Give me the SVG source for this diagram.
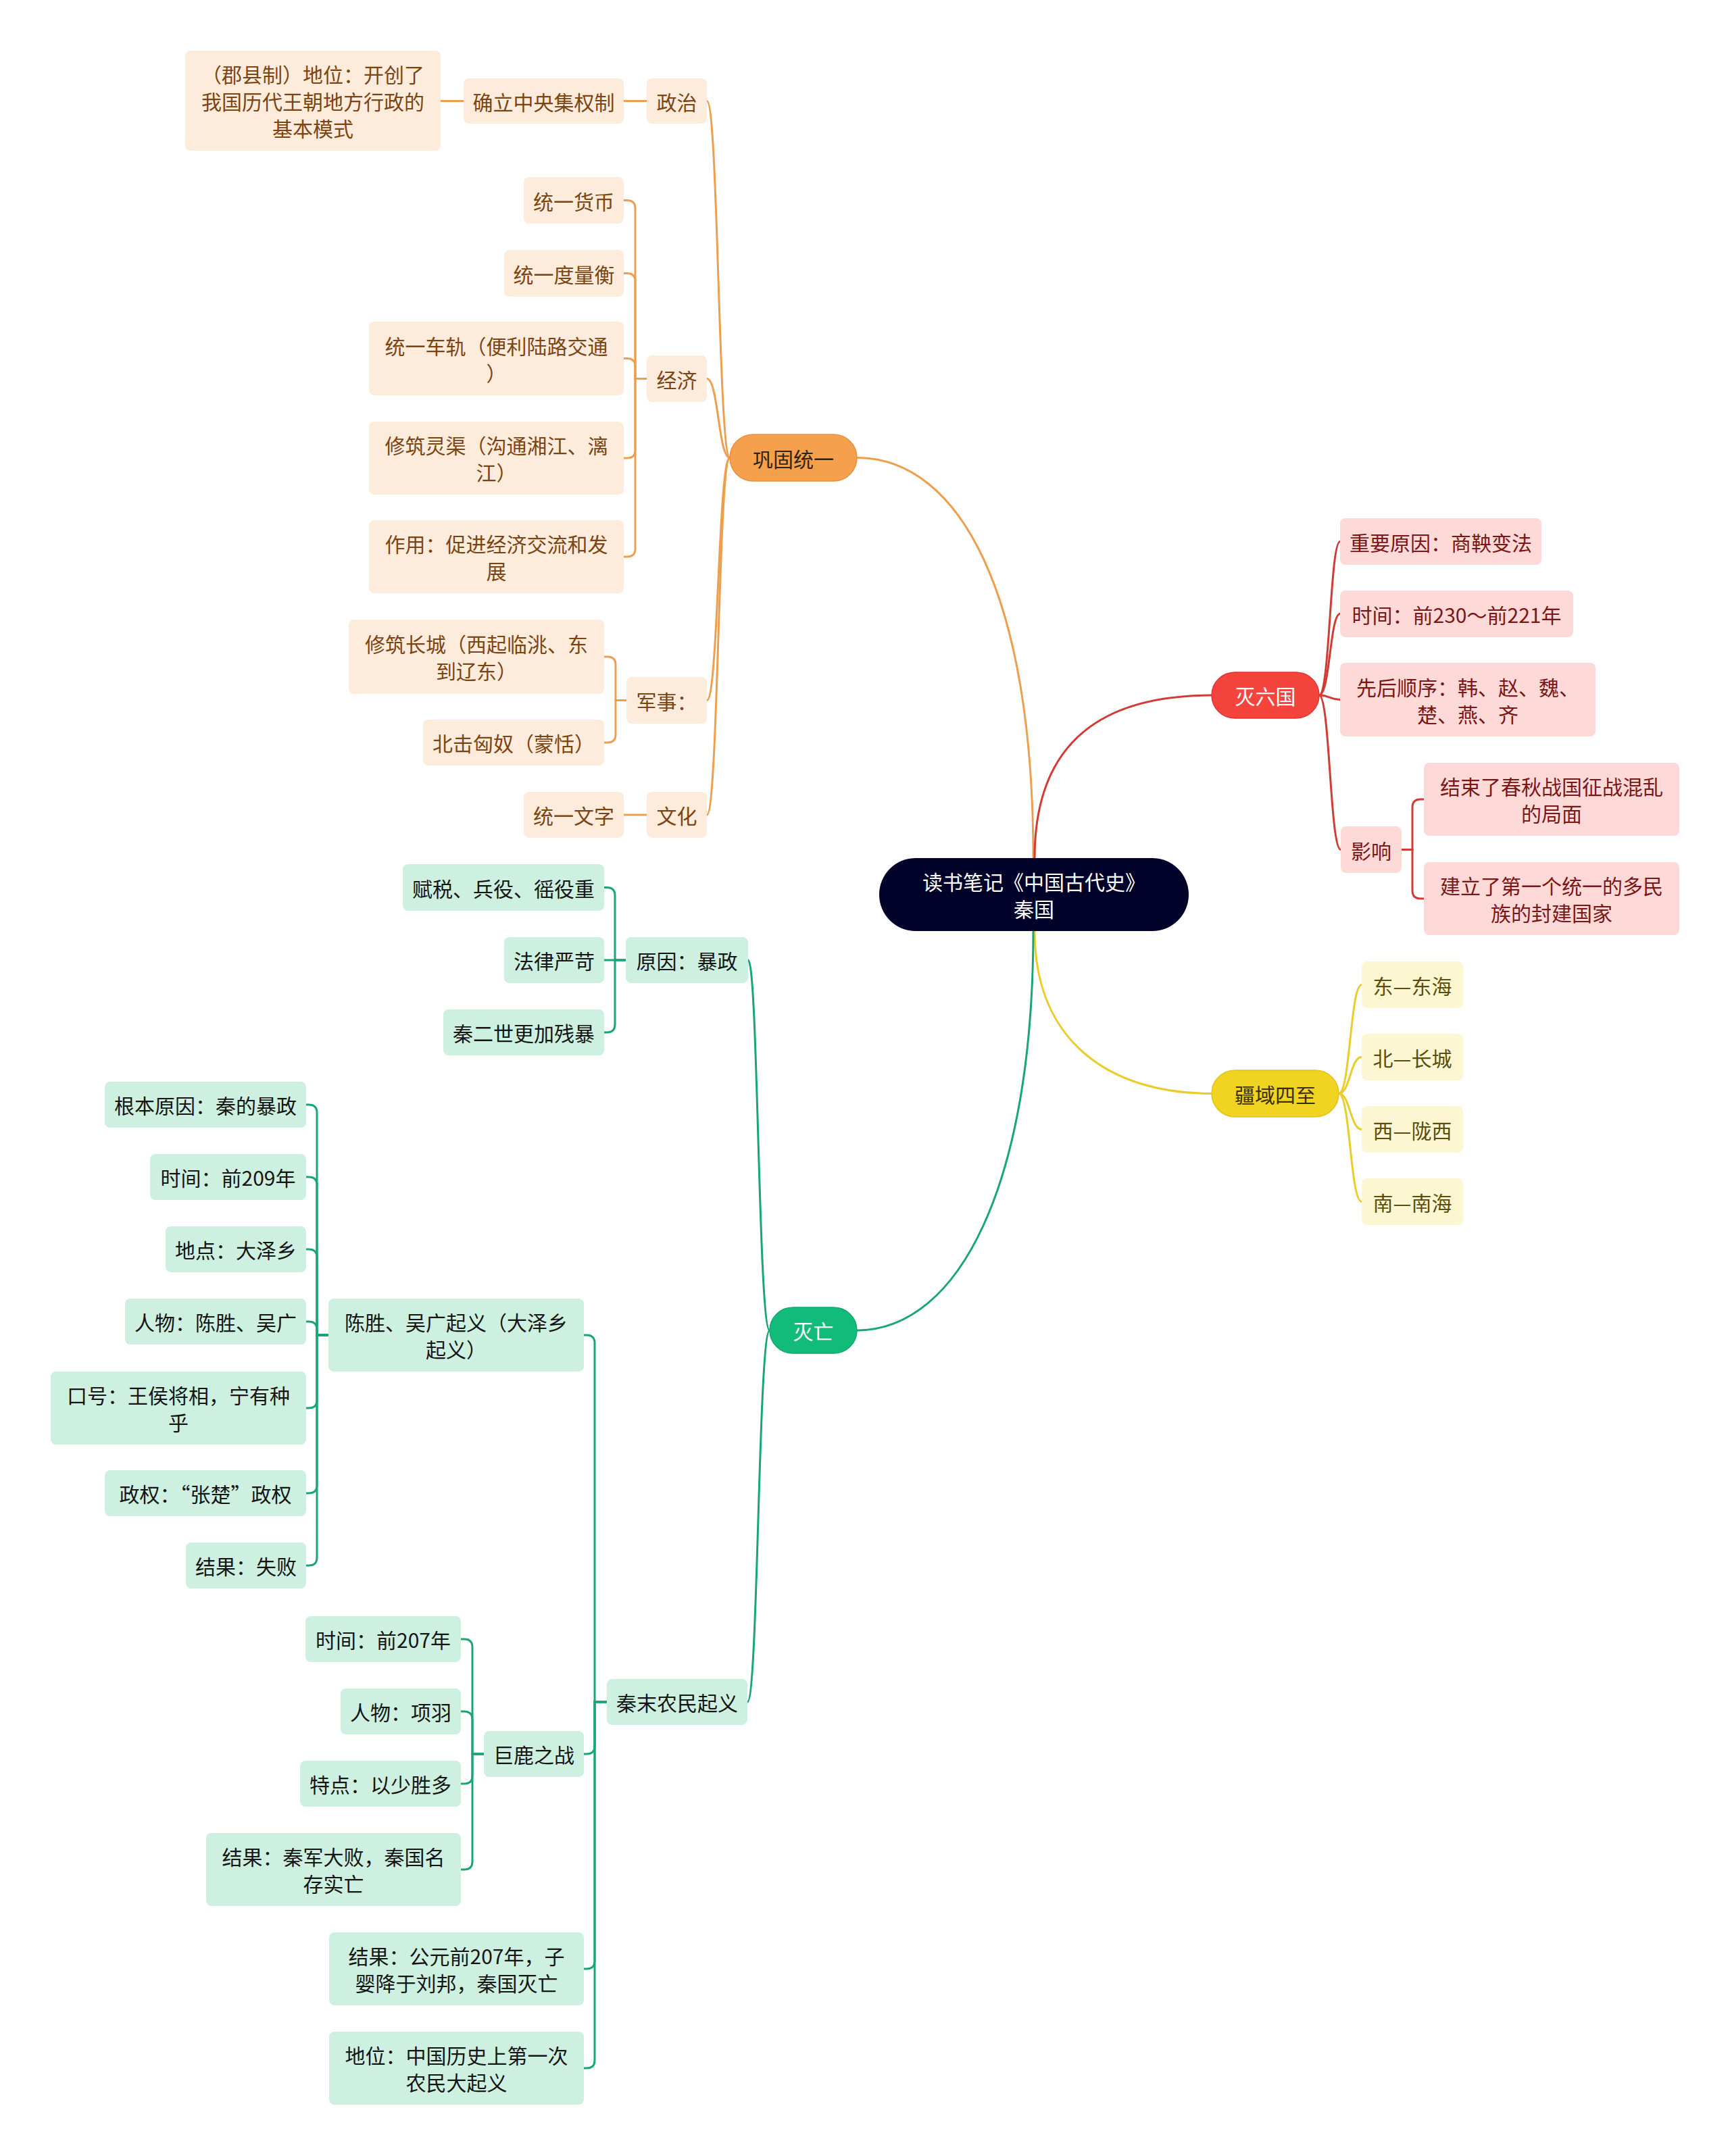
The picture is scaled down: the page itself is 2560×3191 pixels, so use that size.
<svg xmlns="http://www.w3.org/2000/svg" width="2560" height="3191" viewBox="0 0 2560 3191">
<style>
text{font-family:"Noto Sans CJK SC","Noto Sans",sans-serif;font-size:30px;text-anchor:middle;dominant-baseline:central}
.lo{fill:none;stroke:#EC9F4F;stroke-width:3}
.lr{fill:none;stroke:#D13B35;stroke-width:3}
.ly{fill:none;stroke:#EACD2B;stroke-width:3}
.lg{fill:none;stroke:#18A676;stroke-width:3}
.so{fill:#FDEBDC}.to{fill:#7B4513}
.sr{fill:#FDD9D8}.tr{fill:#7A1616}
.sy{fill:#FDF6D3}.ty{fill:#5B4E0B}
.sg{fill:#CDF0E1}.tg{fill:#151515}
.mo{fill:#F5A04C;stroke:#E8913C;stroke-width:1.5}
.mr{fill:#F5443D;stroke:#E0352F;stroke-width:1.5}
.my{fill:#F1D322;stroke:#E2C31A;stroke-width:1.5}
.mg{fill:#13BB7B;stroke:#0FA96E;stroke-width:1.5}
.w{fill:#ffffff}
</style>
<g id="connectors">
<path class="lo" d="M1268,677.5 C1420,677.5 1529,880 1529,1270"/>
<path class="lr" d="M1531,1270 C1531,1090 1640,1029 1793,1029"/>
<path class="ly" d="M1531,1378 C1531,1540 1640,1618.5 1793,1618.5"/>
<path class="lg" d="M1529,1378 C1529,1750 1420,1969 1268,1969"/>
<path class="lo" d="M1046,149.5 C1063,149.5 1063,677.5 1080,677.5"/>
<path class="lo" d="M1046,560.5 C1063,560.5 1063,677.5 1080,677.5"/>
<path class="lo" d="M1046,1036.5 C1063,1036.5 1063,677.5 1080,677.5"/>
<path class="lo" d="M1046,1206 C1063,1206 1063,677.5 1080,677.5"/>
<path class="lo" d="M652,149.5 L686,149.5"/>
<path class="lo" d="M923,149.5 L957,149.5"/>
<path class="lo" d="M923,1206 L957,1206"/>
<path class="lo" d="M957,560.5 L940,560.5 L940,308.5 Q940,296.5 928,296.5 L923,296.5"/>
<path class="lo" d="M957,560.5 L940,560.5 L940,416.5 Q940,404.5 928,404.5 L923,404.5"/>
<path class="lo" d="M957,560.5 L940,560.5 L940,542.5 Q940,530.5 928,530.5 L923,530.5"/>
<path class="lo" d="M957,560.5 L940,560.5 L940,666 Q940,678 928,678 L923,678"/>
<path class="lo" d="M957,560.5 L940,560.5 L940,812 Q940,824 928,824 L923,824"/>
<path class="lo" d="M927,1036.5 L911,1036.5 L911,984 Q911,972 899,972 L894,972"/>
<path class="lo" d="M927,1036.5 L911,1036.5 L911,1087 Q911,1099 899,1099 L894,1099"/>
<path class="lr" d="M1952,1029 C1968,1029 1968,801.5 1983,801.5"/>
<path class="lr" d="M1952,1029 C1968,1029 1968,908.5 1983,908.5"/>
<path class="lr" d="M1952,1029 C1968,1029 1968,1035.5 1983,1035.5"/>
<path class="lr" d="M1952,1029 C1968,1029 1968,1257.5 1984,1257.5"/>
<path class="lr" d="M2074,1257.5 L2090,1257.5 L2090,1195 Q2090,1183 2102,1183 L2107,1183"/>
<path class="lr" d="M2074,1257.5 L2090,1257.5 L2090,1318 Q2090,1330 2102,1330 L2107,1330"/>
<path class="ly" d="M1981,1618.5 C1998,1618.5 1998,1457.5 2015,1457.5"/>
<path class="ly" d="M1981,1618.5 C1998,1618.5 1998,1564.5 2015,1564.5"/>
<path class="ly" d="M1981,1618.5 C1998,1618.5 1998,1671.5 2015,1671.5"/>
<path class="ly" d="M1981,1618.5 C1998,1618.5 1998,1778.5 2015,1778.5"/>
<path class="lg" d="M1139,1969 C1122,1969 1122,1421 1107,1421"/>
<path class="lg" d="M1139,1969 C1122,1969 1122,2519 1106,2519"/>
<path class="lg" d="M926,1421 L910,1421 L910,1325.5 Q910,1313.5 898,1313.5 L894,1313.5"/>
<path class="lg" d="M926,1421 L894,1421"/>
<path class="lg" d="M926,1421 L910,1421 L910,1516 Q910,1528 898,1528 L894,1528"/>
<path class="lg" d="M898,2519 L880,2519 L880,1988 Q880,1976 868,1976 L864,1976"/>
<path class="lg" d="M898,2519 L880,2519 L880,2584 Q880,2596 868,2596 L864,2596"/>
<path class="lg" d="M898,2519 L880,2519 L880,2902 Q880,2914 868,2914 L864,2914"/>
<path class="lg" d="M898,2519 L880,2519 L880,3049 Q880,3061 868,3061 L864,3061"/>
<path class="lg" d="M486,1976 L469,1976 L469,1647 Q469,1635 457,1635 L453,1635"/>
<path class="lg" d="M486,1976 L469,1976 L469,1754 Q469,1742 457,1742 L453,1742"/>
<path class="lg" d="M486,1976 L469,1976 L469,1861 Q469,1849 457,1849 L453,1849"/>
<path class="lg" d="M486,1976 L469,1976 L469,1968 Q469,1956 457,1956 L453,1956"/>
<path class="lg" d="M486,1976 L469,1976 L469,2072 Q469,2084 457,2084 L453,2084"/>
<path class="lg" d="M486,1976 L469,1976 L469,2198 Q469,2210 457,2210 L453,2210"/>
<path class="lg" d="M486,1976 L469,1976 L469,2305 Q469,2317 457,2317 L453,2317"/>
<path class="lg" d="M716,2596 L699,2596 L699,2438 Q699,2426 687,2426 L682,2426"/>
<path class="lg" d="M716,2596 L699,2596 L699,2545 Q699,2533 687,2533 L682,2533"/>
<path class="lg" d="M716,2596 L699,2596 L699,2628 Q699,2640 687,2640 L682,2640"/>
<path class="lg" d="M716,2596 L699,2596 L699,2755 Q699,2767 687,2767 L682,2767"/>
</g>
<g id="root"><rect x="1301" y="1270" width="458" height="108" rx="54" fill="#01022A"/><text class="w" x="1530" y="1304">读书笔记《中国古代史》</text><text class="w" x="1530" y="1344">秦国</text></g>
<g id="n-gg"><rect class="mo" x="1080" y="643" width="188" height="69" rx="34.5"/><text x="1174" y="677.5" fill="#2F2412">巩固统一</text></g>
<g id="n-jxz"><rect class="so" x="274" y="75" width="378" height="148" rx="8"/><text class="to" x="463" y="109">（郡县制）地位：开创了</text><text class="to" x="463" y="149">我国历代王朝地方行政的</text><text class="to" x="463" y="189">基本模式</text></g>
<g id="n-qlzy"><rect class="so" x="686" y="116" width="237" height="67" rx="8"/><text class="to" x="804.5" y="149.5">确立中央集权制</text></g>
<g id="n-zz"><rect class="so" x="957" y="116" width="89" height="67" rx="8"/><text class="to" x="1001.5" y="149.5">政治</text></g>
<g id="n-tyhb"><rect class="so" x="775" y="262" width="148" height="69" rx="8"/><text class="to" x="849" y="296.5">统一货币</text></g>
<g id="n-tydlh"><rect class="so" x="746" y="370" width="177" height="69" rx="8"/><text class="to" x="834.5" y="404.5">统一度量衡</text></g>
<g id="n-tycg"><rect class="so" x="546" y="476" width="377" height="109" rx="8"/><text class="to" x="734.5" y="510.5">统一车轨（便利陆路交通</text><text class="to" x="734.5" y="550.5">）</text></g>
<g id="n-xzlq"><rect class="so" x="546" y="624" width="377" height="108" rx="8"/><text class="to" x="734.5" y="658">修筑灵渠（沟通湘江、漓</text><text class="to" x="734.5" y="698">江）</text></g>
<g id="n-zy"><rect class="so" x="546" y="770" width="377" height="108" rx="8"/><text class="to" x="734.5" y="804">作用：促进经济交流和发</text><text class="to" x="734.5" y="844">展</text></g>
<g id="n-jj"><rect class="so" x="957" y="526" width="89" height="69" rx="8"/><text class="to" x="1001.5" y="560.5">经济</text></g>
<g id="n-xzcc"><rect class="so" x="516" y="917" width="378" height="110" rx="8"/><text class="to" x="705" y="952">修筑长城（西起临洮、东</text><text class="to" x="705" y="992">到辽东）</text></g>
<g id="n-bjxn"><rect class="so" x="626" y="1065" width="268" height="68" rx="8"/><text class="to" x="760" y="1099">北击匈奴（蒙恬）</text></g>
<g id="n-js"><rect class="so" x="927" y="1002" width="119" height="69" rx="8"/><text class="to" x="986.5" y="1036.5">军事：</text></g>
<g id="n-tywz"><rect class="so" x="775" y="1172" width="148" height="68" rx="8"/><text class="to" x="849" y="1206">统一文字</text></g>
<g id="n-wh"><rect class="so" x="957" y="1172" width="89" height="68" rx="8"/><text class="to" x="1001.5" y="1206">文化</text></g>
<g id="n-mlg"><rect class="mr" x="1793" y="995" width="159" height="68" rx="34"/><text class="w" x="1872.5" y="1029">灭六国</text></g>
<g id="n-zyyy"><rect class="sr" x="1983" y="767" width="298" height="69" rx="8"/><text class="tr" x="2132" y="801.5">重要原因：商鞅变法</text></g>
<g id="n-sj230"><rect class="sr" x="1983" y="874" width="345" height="69" rx="8"/><text class="tr" x="2155.5" y="908.5">时间：前230～前221年</text></g>
<g id="n-xhsx"><rect class="sr" x="1983" y="981" width="378" height="109" rx="8"/><text class="tr" x="2172" y="1015.5">先后顺序：韩、赵、魏、</text><text class="tr" x="2172" y="1055.5">楚、燕、齐</text></g>
<g id="n-yx"><rect class="sr" x="1984" y="1223" width="90" height="69" rx="8"/><text class="tr" x="2029" y="1257.5">影响</text></g>
<g id="n-jsl"><rect class="sr" x="2107" y="1129" width="378" height="108" rx="8"/><text class="tr" x="2296" y="1163">结束了春秋战国征战混乱</text><text class="tr" x="2296" y="1203">的局面</text></g>
<g id="n-jll"><rect class="sr" x="2107" y="1276" width="378" height="108" rx="8"/><text class="tr" x="2296" y="1310">建立了第一个统一的多民</text><text class="tr" x="2296" y="1350">族的封建国家</text></g>
<g id="n-jysz"><rect class="my" x="1793" y="1584" width="188" height="69" rx="34.5"/><text x="1887" y="1618.5" fill="#3A3000">疆域四至</text></g>
<g id="n-ddh"><rect class="sy" x="2015" y="1423" width="150" height="69" rx="8"/><text class="ty" x="2090" y="1457.5">东—东海</text></g>
<g id="n-bcc"><rect class="sy" x="2015" y="1530" width="150" height="69" rx="8"/><text class="ty" x="2090" y="1564.5">北—长城</text></g>
<g id="n-xlx"><rect class="sy" x="2015" y="1637" width="150" height="69" rx="8"/><text class="ty" x="2090" y="1671.5">西—陇西</text></g>
<g id="n-nnh"><rect class="sy" x="2015" y="1744" width="150" height="69" rx="8"/><text class="ty" x="2090" y="1778.5">南—南海</text></g>
<g id="n-mw"><rect class="mg" x="1139" y="1935" width="129" height="68" rx="34"/><text class="w" x="1203.5" y="1969">灭亡</text></g>
<g id="n-yybz"><rect class="sg" x="926" y="1387" width="181" height="68" rx="8"/><text class="tg" x="1016.5" y="1421">原因：暴政</text></g>
<g id="n-fs"><rect class="sg" x="596" y="1279" width="298" height="69" rx="8"/><text class="tg" x="745" y="1313.5">赋税、兵役、徭役重</text></g>
<g id="n-flyk"><rect class="sg" x="746" y="1387" width="148" height="68" rx="8"/><text class="tg" x="820" y="1421">法律严苛</text></g>
<g id="n-qes"><rect class="sg" x="656" y="1494" width="238" height="68" rx="8"/><text class="tg" x="775" y="1528">秦二世更加残暴</text></g>
<g id="n-qmny"><rect class="sg" x="898" y="2485" width="208" height="68" rx="8"/><text class="tg" x="1002" y="2519">秦末农民起义</text></g>
<g id="n-csgy"><rect class="sg" x="486" y="1922" width="378" height="108" rx="8"/><text class="tg" x="675" y="1956">陈胜、吴广起义（大泽乡</text><text class="tg" x="675" y="1996">起义）</text></g>
<g id="n-gbyy"><rect class="sg" x="155" y="1601" width="298" height="68" rx="8"/><text class="tg" x="304" y="1635">根本原因：秦的暴政</text></g>
<g id="n-sj209"><rect class="sg" x="222" y="1708" width="231" height="68" rx="8"/><text class="tg" x="337.5" y="1742">时间：前209年</text></g>
<g id="n-dd"><rect class="sg" x="245" y="1815" width="208" height="68" rx="8"/><text class="tg" x="349" y="1849">地点：大泽乡</text></g>
<g id="n-rwcs"><rect class="sg" x="185" y="1922" width="268" height="68" rx="8"/><text class="tg" x="319" y="1956">人物：陈胜、吴广</text></g>
<g id="n-kh"><rect class="sg" x="75" y="2030" width="378" height="108" rx="8"/><text class="tg" x="264" y="2064">口号：王侯将相，宁有种</text><text class="tg" x="264" y="2104">乎</text></g>
<g id="n-zq"><rect class="sg" x="155" y="2176" width="298" height="68" rx="8"/><text class="tg" x="304" y="2210">政权：“张楚”政权</text></g>
<g id="n-jgsb"><rect class="sg" x="275" y="2283" width="178" height="68" rx="8"/><text class="tg" x="364" y="2317">结果：失败</text></g>
<g id="n-jlzz"><rect class="sg" x="716" y="2562" width="148" height="68" rx="8"/><text class="tg" x="790" y="2596">巨鹿之战</text></g>
<g id="n-sj207"><rect class="sg" x="452" y="2392" width="230" height="68" rx="8"/><text class="tg" x="567" y="2426">时间：前207年</text></g>
<g id="n-rwxy"><rect class="sg" x="504" y="2499" width="178" height="68" rx="8"/><text class="tg" x="593" y="2533">人物：项羽</text></g>
<g id="n-td"><rect class="sg" x="444" y="2606" width="238" height="68" rx="8"/><text class="tg" x="563" y="2640">特点：以少胜多</text></g>
<g id="n-jgqj"><rect class="sg" x="305" y="2713" width="377" height="108" rx="8"/><text class="tg" x="493.5" y="2747">结果：秦军大败，秦国名</text><text class="tg" x="493.5" y="2787">存实亡</text></g>
<g id="n-jggy"><rect class="sg" x="487" y="2860" width="377" height="108" rx="8"/><text class="tg" x="675.5" y="2894">结果：公元前207年，子</text><text class="tg" x="675.5" y="2934">婴降于刘邦，秦国灭亡</text></g>
<g id="n-dw"><rect class="sg" x="487" y="3007" width="377" height="108" rx="8"/><text class="tg" x="675.5" y="3041">地位：中国历史上第一次</text><text class="tg" x="675.5" y="3081">农民大起义</text></g>
</svg>
